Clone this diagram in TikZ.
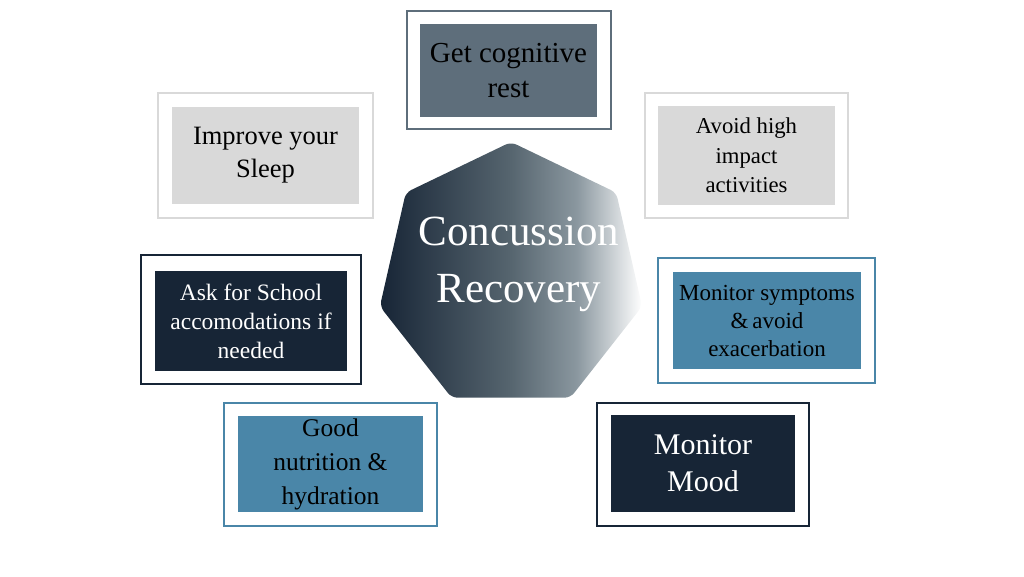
\documentclass[tikz,border=0pt]{standalone}
\usepackage{fontspec}
\setmainfont{Liberation Serif}
\definecolor{navy}{HTML}{172536}
\definecolor{slate}{HTML}{5E6E7B}
\definecolor{steel}{HTML}{4A86A8}
\definecolor{lgray}{HTML}{D9D9D9}
\definecolor{hmid}{HTML}{56656F}
\definecolor{hlight}{HTML}{8A979F}
\pgfdeclarehorizontalshading{heptshade}{100bp}{color(0bp)=(navy); color(25bp)=(navy); color(50bp)=(hmid); color(62.5bp)=(hlight); color(75bp)=(white); color(100bp)=(white)}
\newcommand\fs[2]{\fontsize{#1}{#2}\selectfont}
\tikzset{
  outerbox/.style={draw=#1, line width=2pt, fill=white, inner sep=0pt},
  innerbox/.style={fill=#1, inner sep=0pt, align=center},
}
\begin{document}
\begin{tikzpicture}[x=1pt,y=-1pt]
\useasboundingbox (0,0) rectangle (1024,577);
% heptagon
\coordinate (h1) at (511,142);
\coordinate (h2) at (616.2,192.6);
\coordinate (h3) at (642.1,306.4);
\coordinate (h4) at (570.4,397.7);
\coordinate (h5) at (451.6,397.7);
\coordinate (h6) at (379.9,306.4);
\coordinate (h7) at (405.8,192.6);
\shade[shading=heptshade, rounded corners=6pt]
  (h1) -- (h2) -- (h3) -- (h4) -- (h5) -- (h6) -- (h7) -- cycle;
\node[text=white, align=center, font=\fs{43}{57}] (center) at (519,264) {Concussion\\Recovery};

% Get cognitive rest
\node[outerbox=slate, minimum width=204, minimum height=118] (o1) at (509,70) {};
\node[innerbox=slate, minimum width=177, minimum height=93, font=\fs{29}{35}] (b1) at (508.5,70.5) {Get cognitive\\rest};

% Improve your Sleep
\node[outerbox=lgray, minimum width=215, minimum height=125] (o2) at (265.5,155.5) {};
\node[innerbox=lgray, minimum width=187, minimum height=97, font=\fs{26.5}{33}] (b2) at (265.5,155.5) {Improve your\\Sleep};

% Avoid high impact activities
\node[outerbox=lgray, minimum width=203, minimum height=125] (o3) at (746.5,155.5) {};
\node[innerbox=lgray, minimum width=177, minimum height=99, font=\fs{22.7}{29.5}] (b3) at (746.5,155.5) {Avoid high\\impact\\activities};

% Ask for School accomodations
\node[outerbox=navy, minimum width=220, minimum height=129] (o4) at (251,319.5) {};
\node[innerbox=navy, text=white, minimum width=192, minimum height=100, font=\fs{23.5}{29}] (b4) at (251,321) {Ask for School\\accomodations if\\needed};

% Monitor symptoms
\node[outerbox=steel, minimum width=217, minimum height=125] (o5) at (766.5,320.5) {};
\node[innerbox=steel, minimum width=188, minimum height=97, font=\fs{23}{28}] (b5) at (767,320.5) {Monitor symptoms\\\&\,avoid\\exacerbation};

% Monitor Mood
\node[outerbox=navy, minimum width=212, minimum height=123] (o6) at (703,464.5) {};
\node[innerbox=navy, text=white, minimum width=184, minimum height=97, font=\fs{30}{37}] (b6) at (703,463.5) {Monitor\\Mood};

% Good nutrition
\node[outerbox=steel, minimum width=213, minimum height=123] (o7) at (330.5,464.5) {};
\node[innerbox=steel, minimum width=185, minimum height=96, font=\fs{25.5}{34}] (b7) at (330.5,464) {Good\\nutrition \&\\hydration};
\end{tikzpicture}
\end{document}
